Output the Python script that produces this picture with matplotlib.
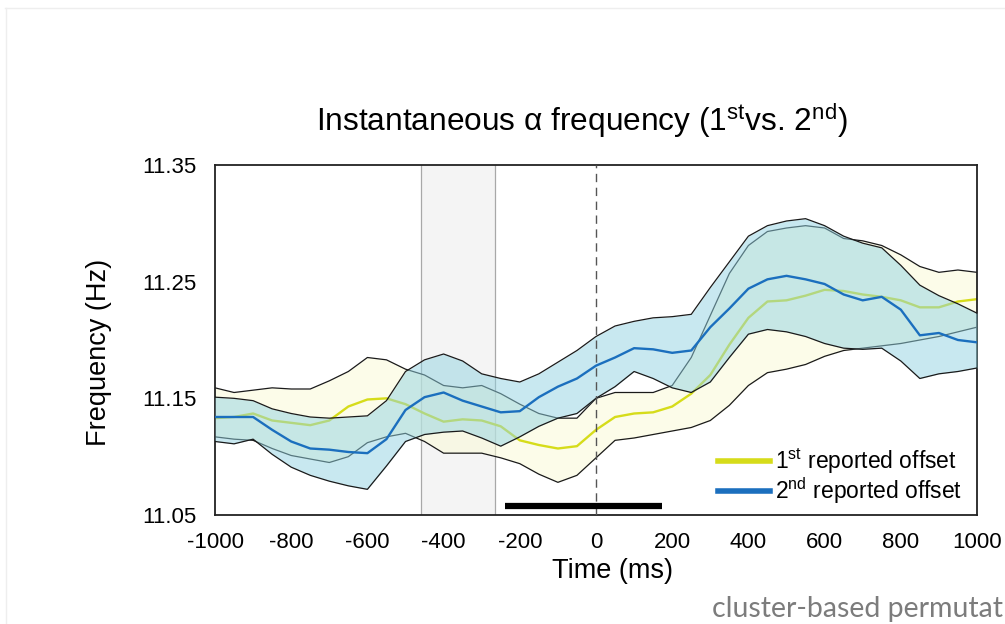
import matplotlib
matplotlib.use('Agg')
import matplotlib.pyplot as plt
from matplotlib.lines import Line2D

plt.rcParams['font.family'] = ['Liberation Sans', 'DejaVu Sans']
plt.rcParams['mathtext.fontset'] = 'custom'
plt.rcParams['mathtext.rm'] = 'Liberation Sans'
plt.rcParams['mathtext.it'] = 'Liberation Sans:italic'
plt.rcParams['mathtext.bf'] = 'Liberation Sans:bold'
plt.rcParams['axes.unicode_minus'] = False

# ---------------- data ----------------
time_ms = list(range(-1000, 1001, 50))

first_mean = [11.133, 11.134, 11.137, 11.131, 11.129, 11.127, 11.131, 11.143, 11.149, 11.150,
              11.145, 11.137, 11.130, 11.132, 11.131, 11.126, 11.114, 11.110, 11.107, 11.109,
              11.123, 11.134, 11.137, 11.138, 11.143, 11.154, 11.170, 11.196, 11.219, 11.233,
              11.234, 11.238, 11.243, 11.242, 11.239, 11.237, 11.234, 11.228, 11.228, 11.233,
              11.235]
first_upper = [11.159, 11.155, 11.157, 11.159, 11.158, 11.158, 11.165, 11.173, 11.185, 11.183,
               11.175, 11.170, 11.161, 11.159, 11.161, 11.154, 11.145, 11.137, 11.133, 11.133,
               11.150, 11.155, 11.155, 11.155, 11.161, 11.185, 11.221, 11.257, 11.281, 11.293,
               11.296, 11.298, 11.296, 11.287, 11.285, 11.281, 11.273, 11.263, 11.258, 11.260,
               11.258]
first_lower = [11.117, 11.115, 11.114, 11.107, 11.101, 11.098, 11.095, 11.100, 11.112, 11.117,
               11.120, 11.113, 11.103, 11.103, 11.103, 11.099, 11.094, 11.085, 11.078, 11.084,
               11.099, 11.114, 11.116, 11.119, 11.122, 11.125, 11.131, 11.144, 11.161, 11.172,
               11.175, 11.179, 11.186, 11.191, 11.193, 11.195, 11.197, 11.200, 11.203, 11.207,
               11.211]

second_mean = [11.134, 11.134, 11.134, 11.123, 11.113, 11.107, 11.106, 11.104, 11.103, 11.115,
               11.140, 11.151, 11.155, 11.148, 11.143, 11.138, 11.139, 11.151, 11.160, 11.167,
               11.178, 11.185, 11.193, 11.192, 11.189, 11.191, 11.211, 11.227, 11.244, 11.252,
               11.255, 11.252, 11.248, 11.239, 11.234, 11.237, 11.226, 11.204, 11.206, 11.200,
               11.198]
second_upper = [11.151, 11.150, 11.148, 11.141, 11.137, 11.134, 11.133, 11.134, 11.135, 11.148,
                11.173, 11.183, 11.188, 11.182, 11.171, 11.167, 11.164, 11.171, 11.181, 11.191,
                11.203, 11.212, 11.216, 11.219, 11.220, 11.222, 11.245, 11.267, 11.289, 11.298,
                11.302, 11.304, 11.298, 11.289, 11.283, 11.279, 11.264, 11.247, 11.238, 11.231,
                11.223]
second_lower = [11.113, 11.111, 11.115, 11.102, 11.091, 11.084, 11.079, 11.075, 11.072, 11.092,
                11.113, 11.119, 11.121, 11.122, 11.116, 11.109, 11.117, 11.126, 11.133, 11.137,
                11.150, 11.160, 11.173, 11.167, 11.159, 11.155, 11.164, 11.185, 11.205, 11.209,
                11.207, 11.203, 11.197, 11.193, 11.192, 11.193, 11.182, 11.167, 11.171, 11.173,
                11.176]

baseline_window = [-459, -265]
cluster_window = [-239, 173]
cluster_level = 11.0575

x_ticks = [-1000, -800, -600, -400, -200, 0, 200, 400, 600, 800, 1000]
y_ticks = [11.05, 11.15, 11.25, 11.35]
y_tick_labels = ['11.05', '11.15', '11.25', '11.35']
series_labels = ['1$^{\\mathrm{st}}$ reported offset', '2$^{\\mathrm{nd}}$ reported offset']

# ---------------- style ----------------
YELLOW = '#d6dc1a'
BLUE = '#1b6fbe'
EDGE = '#1a1a1a'

fig = plt.figure(figsize=(10.05, 6.24), dpi=100)
ax = fig.add_axes([215 / 1005, 109 / 624, 762 / 1005, 350 / 624])
ax.set_xlim(-1000, 1000)
ax.set_ylim(11.05, 11.35)

# baseline window
ax.axvspan(baseline_window[0], baseline_window[1], facecolor='#f4f4f4', edgecolor='none', zorder=0)
for xv in baseline_window:
    ax.axvline(xv, color='#a8a8a8', lw=0.9, zorder=0.5)

# first reported offset band
ax.fill_between(time_ms, first_lower, first_upper, color='#fbfbd7', alpha=0.55, lw=0, zorder=1)
ax.plot(time_ms, first_upper, color=EDGE, lw=0.9, zorder=2)
ax.plot(time_ms, first_lower, color=EDGE, lw=0.9, zorder=2)
ax.plot(time_ms, first_mean, color=YELLOW, lw=1.7, zorder=2)

# second reported offset band (drawn over the first)
ax.fill_between(time_ms, second_lower, second_upper, color='#92d3e2', alpha=0.5, lw=0, zorder=3)
ax.plot(time_ms, second_upper, color=EDGE, lw=0.9, zorder=4)
ax.plot(time_ms, second_lower, color=EDGE, lw=0.9, zorder=4)
ax.plot(time_ms, second_mean, color=BLUE, lw=1.7, zorder=4)

# stimulus onset
ax.axvline(0, color='#555555', lw=1.0, ls=(0, (6, 4)), zorder=5)

# significant cluster bar
ax.plot(cluster_window, [cluster_level, cluster_level], color='black', lw=4.5,
        solid_capstyle='butt', zorder=6)

# axes styling
for s in ax.spines.values():
    s.set_color('#222222')
    s.set_linewidth(1.3)
ax.set_xticks(x_ticks)
ax.set_yticks(y_ticks)
ax.set_yticklabels(y_tick_labels)
ax.tick_params(axis='both', length=0, labelsize=16)
ax.tick_params(axis='x', pad=12)
ax.tick_params(axis='y', pad=13)

ax.set_xlabel('Time (ms)', fontsize=19.5)
ax.xaxis.set_label_coords((612 - 215) / 762, (515 - 558) / 350)
ax.set_ylabel('Frequency (Hz)', fontsize=19.5)
ax.yaxis.set_label_coords((112 - 215) / 762, (515 - 352) / 350)

handles = [Line2D([0], [0], color=YELLOW, lw=4),
           Line2D([0], [0], color=BLUE, lw=4)]
ax.legend(handles, series_labels, loc='center left',
          bbox_to_anchor=((718 - 215) / 762, (515 - 476.5) / 350),
          frameon=False, fontsize=16.5, handlelength=2.25, handletextpad=0.25,
          labelspacing=0.0, borderpad=0, borderaxespad=0)

fig.text(582 / 1005, 1 - 120 / 624,
         'Instantaneous α frequency (1$^{\\mathrm{st}}$vs. 2$^{\\mathrm{nd}}$)',
         ha='center', va='center', fontsize=22.8)

# faint slide border
fig.add_artist(Line2D([5 / 1005, 1.0], [1 - 7.5 / 624, 1 - 7.5 / 624], color='#eeeeee', lw=1,
                      transform=fig.transFigure))
fig.add_artist(Line2D([5.5 / 1005, 5.5 / 1005], [0, 1 - 7.5 / 624], color='#eeeeee', lw=1,
                      transform=fig.transFigure))

fig.text(1003 / 1005, 1 - 617 / 624, 'cluster-based permutat', color='#7c7c7c',
         fontsize=20.5, family=['Lato', 'DejaVu Sans'], va='baseline', ha='right')

fig.savefig('out.png', dpi=100)
